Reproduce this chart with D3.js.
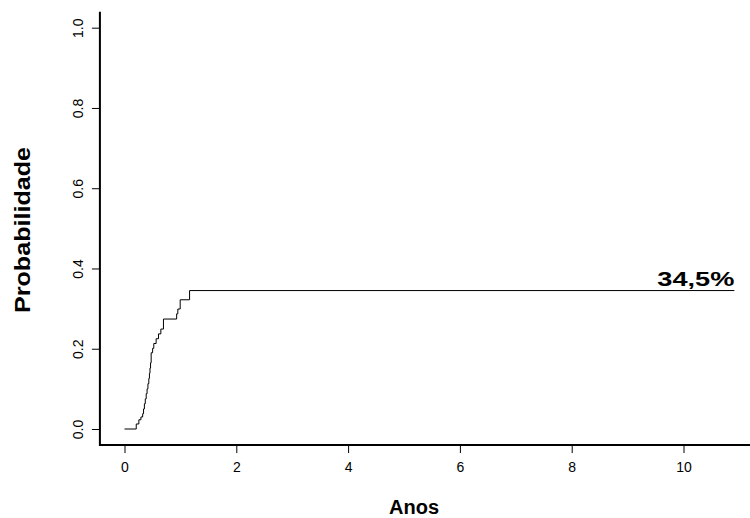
<!DOCTYPE html>
<html>
<head>
<meta charset="utf-8">
<script src="https://cdn.jsdelivr.net/npm/d3@7"></script>
<style>
  body { margin: 0; background: #fff; }
  svg { font-family: "Liberation Sans", Arial, sans-serif; }
</style>
</head>
<body>
<div id="chart"></div>
<script>
// cumulative incidence, step function (time in years, probability)
const eventTimes = [0, 0.21, 0.257, 0.294, 0.325, 0.341, 0.356, 0.372, 0.388, 0.404, 0.419, 0.435, 0.446, 0.456, 0.466, 0.477,
    0.503, 0.524, 0.566, 0.608, 0.65, 0.697, 0.933, 0.954, 0.996, 1.164];
const probValues = [0, 0.0125, 0.023, 0.030, 0.038, 0.050, 0.063, 0.075, 0.088, 0.100, 0.113, 0.126, 0.139, 0.152, 0.165, 0.190,
    0.201, 0.213, 0.225, 0.237, 0.249, 0.274, 0.287, 0.299, 0.322, 0.345];
const endTime = 10.91;
const xTicks = [0, 2, 4, 6, 8, 10];
const yTicks = [0, 0.2, 0.4, 0.6, 0.8, 1.0];
const finalLabel = "34,5%";

const width = 750, height = 518;
const x = d3.scaleLinear().domain([0, 10]).range([124.5, 683.5]);
const y = d3.scaleLinear().domain([0, 1]).range([429, 27.7]);
const xLeft = -0.44;

const svg = d3.select("#chart").append("svg").attr("width", width).attr("height", height);

// L shaped box
svg.append("path")
    .attr("d", "M" + x(xLeft) + "," + y(1.04) + "V" + y(-0.04) + "H" + width)
    .attr("fill", "none").attr("stroke", "#000").attr("stroke-width", 2);

// x axis
const gx = svg.append("g").attr("transform", "translate(0," + y(-0.04) + ")")
    .call(d3.axisBottom(x).tickValues(xTicks).tickSize(8).tickPadding(9).tickFormat(d3.format("d")));
gx.select(".domain").remove();
gx.selectAll("text").attr("font-size", 14).attr("font-family", null);

// y axis, labels parallel to the axis
const gy = svg.append("g").attr("transform", "translate(" + x(xLeft) + ",0)")
    .call(d3.axisLeft(y).tickValues(yTicks).tickSize(8).tickFormat(d3.format(".1f")));
gy.select(".domain").remove();
gy.selectAll("text")
    .attr("font-size", 14).attr("font-family", null)
    .attr("x", null).attr("dy", null)
    .attr("text-anchor", "middle")
    .attr("transform", "translate(-17,0) rotate(-90)");

// step curve
const pts = eventTimes.map((t, i) => [t, probValues[i]]);
pts.push([endTime, probValues[probValues.length - 1]]);
const line = d3.line().x(d => x(d[0])).y(d => y(d[1])).curve(d3.curveStepAfter);
svg.append("path").datum(pts)
    .attr("d", line)
    .attr("fill", "none").attr("stroke", "#000").attr("stroke-width", 1);

svg.append("text")
    .attr("x", x(endTime)).attr("y", y(probValues[probValues.length - 1]) - 5)
    .attr("text-anchor", "end").attr("font-size", 21).attr("font-weight", "bold")
    .attr("textLength", 77).attr("lengthAdjust", "spacingAndGlyphs")
    .text(finalLabel);

// titles
svg.append("text")
    .attr("x", 414).attr("y", 514)
    .attr("text-anchor", "middle").attr("font-size", 20).attr("font-weight", "bold")
    .text("Anos");
svg.append("text")
    .attr("transform", "translate(30,230) rotate(-90)")
    .attr("text-anchor", "middle").attr("font-size", 22).attr("font-weight", "bold")
    .attr("textLength", 166).attr("lengthAdjust", "spacingAndGlyphs")
    .text("Probabilidade");
</script>
</body>
</html>
